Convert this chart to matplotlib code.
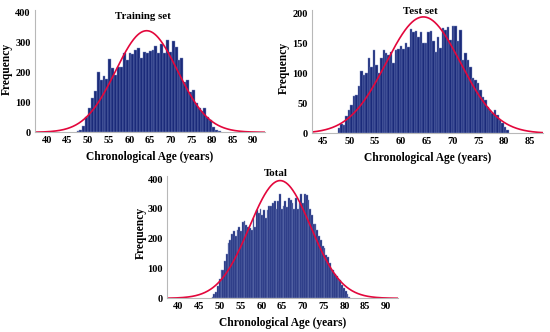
import numpy as np
import matplotlib
matplotlib.use("Agg")
import matplotlib.pyplot as plt

# histogram counts
train_start = 47.2
train_width = 0.7
train_counts = [3, 8, 21, 52, 80, 116, 138, 203, 175, 188, 177, 244, 214, 191, 220,
                220, 264, 242, 264, 262, 275, 281, 250, 270, 264, 272, 277, 288, 264,
                297, 264, 308, 268, 305, 285, 242, 250, 168, 175, 135, 140, 97, 80,
                70, 80, 50, 40, 18, 8, 3]

test_start = 47.8
test_width = 0.48
test_counts = [8, 15, 13, 28, 38, 47, 62, 64, 78, 104,
               97, 100, 125, 111, 139, 114, 101, 125, 138, 133,
               131, 135, 117, 139, 141, 145, 140, 150, 143, 173,
               168, 170, 161, 168, 150, 150, 168, 170, 153, 136,
               161, 142, 175, 172, 177, 155, 178, 178, 153, 172,
               122, 133, 122, 111, 92, 89, 83, 72, 61, 56,
               44, 39, 33, 39, 31, 22, 17, 11, 6]

total_start = 48.0
total_width = 0.428
total_counts = [5, 15, 22, 40, 65, 95, 95, 125, 150, 185, 195, 215, 225, 210, 230,
                240, 225, 255, 258, 245, 240, 235, 230, 270, 240, 295, 285, 300,
                280, 295, 270, 295, 310, 310, 320, 325, 300, 325, 350, 300, 310,
                325, 305, 335, 330, 320, 300, 335, 300, 320, 350, 320, 350, 345,
                330, 300, 280, 250, 250, 230, 210, 195, 175, 170, 145, 140, 120,
                100, 95, 80, 75, 65, 60, 45, 35, 25, 15, 5]

# fitted normal curves (mean, sd, peak height)
train_fit = (64.2, 7.5, 340)
test_fit = (64.35, 7.2, 194)
total_fit = (64.5, 7.4, 395)

train_xticks = [40, 45, 50, 55, 60, 65, 70, 75, 80, 85, 90]
test_xticks = [45, 50, 55, 60, 65, 70, 75, 80, 85]

BAR = "#1b2b7a"
RED = "#e3073c"
FONT = "Liberation Serif"


def panel(ax, start, width, counts, fit, xlim, ylim, xticks, yticks, title, title_y,
          ylab_pos):
    edges = start + width * np.arange(len(counts))
    ax.bar(edges, counts, width=width, align="edge", color=BAR,
           edgecolor="#7f8fc4", linewidth=0.3)
    mu, sd, peak = fit
    xs = np.linspace(xlim[0], xlim[1], 400)
    ax.plot(xs, peak * np.exp(-(xs - mu) ** 2 / (2 * sd ** 2)), color=RED, lw=1.2)
    ax.set_xlim(*xlim)
    ax.set_ylim(*ylim)
    ax.set_xticks(xticks)
    ax.set_yticks(yticks)
    for s in ["top", "right"]:
        ax.spines[s].set_visible(False)
    for s in ["left", "bottom"]:
        ax.spines[s].set_color("#b8b8b8")
        ax.spines[s].set_linewidth(0.8)
    ax.tick_params(length=0, pad=3, labelsize=7.5)
    for lab in ax.get_xticklabels() + ax.get_yticklabels():
        lab.set_fontfamily(FONT)
        lab.set_fontweight("bold")
    ax.set_xlabel("Chronological Age (years)", fontfamily=FONT, fontweight="bold",
                  fontsize=8.3, labelpad=4)
    ax.set_ylabel("Frequency", fontfamily=FONT, fontweight="bold", fontsize=8.3)
    ax.yaxis.set_label_coords(*ylab_pos)
    ax.text(0.47, title_y, title, transform=ax.transAxes, ha="center", va="bottom",
            fontfamily=FONT, fontweight="bold", fontsize=7.8)


fig = plt.figure(figsize=(5.5, 3.32), dpi=100)

ax1 = fig.add_axes([0.0636, 0.6015, 0.418, 0.369])
panel(ax1, train_start, train_width, train_counts, train_fit, (37.1, 92.9), (0, 410),
      train_xticks, [0, 100, 200, 300, 400], "Training set", 0.91, (-0.096, 0.52))

ax2 = fig.add_axes([0.5667, 0.5985, 0.421, 0.3705])
panel(ax2, test_start, test_width, test_counts, test_fit, (42.7, 87.6), (0, 205),
      test_xticks, [0, 50, 100, 150, 200], "Test set", 0.955, (-0.094, 0.53))

ax3 = fig.add_axes([0.3042, 0.1015, 0.42, 0.368])
panel(ax3, total_start, total_width, total_counts, total_fit, (37.3, 93.0), (0, 410),
      train_xticks, [0, 100, 200, 300, 400], "Total", 0.985, (-0.089, 0.535))

fig.savefig("out.png", dpi=100)
